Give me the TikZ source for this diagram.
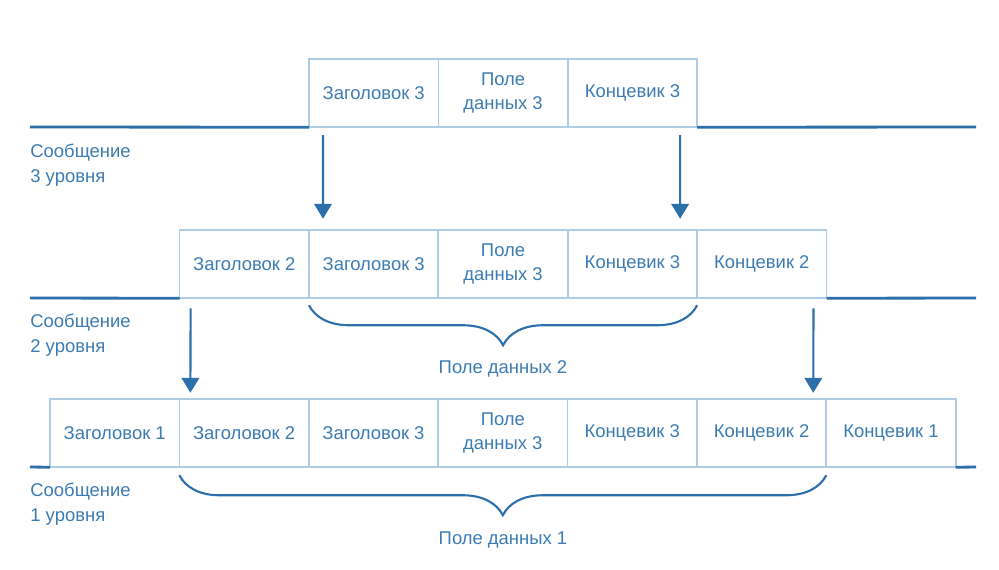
\documentclass[tikz,border=0pt]{standalone}
\usepackage{fontspec}
\setmainfont{Liberation Sans}
\usetikzlibrary{positioning,arrows.meta,decorations.pathreplacing}
\definecolor{lineblue}{HTML}{2C6FAA}
\definecolor{boxblue}{HTML}{AECDE4}
\definecolor{textblue}{HTML}{3C7CB3}
\tikzset{
  field/.style={draw=boxblue, line width=1pt, minimum width=2.588cm, minimum height=1.37cm,
    outer sep=0pt, inner sep=1pt, text=textblue, align=center,
    font=\fontsize{10.5}{14}\selectfont},
  wire/.style={draw=lineblue, line width=1.6pt},
  down/.style={draw=lineblue, line width=1.2pt, -{Triangle[width=10pt,length=8.5pt]}},
  fieldbrace/.style={draw=lineblue, line width=1.2pt, decorate,
    decoration={brace, mirror, amplitude=0.8cm}},
  lvl/.style={text=textblue, align=left, anchor=north west, inner sep=0pt,
    font=\fontsize{10.5}{14}\selectfont},
  bracelbl/.style={text=textblue, font=\fontsize{10.5}{13}\selectfont}
}
\begin{document}
\begin{tikzpicture}[x=0.02cm,y=-0.02cm]
  \useasboundingbox[fill=white] (0,0) rectangle (999,569);

  % level 3
  \node[field] (t1) at (373.7,93) {Заголовок 3};
  \node[field, right=0pt of t1] (t2) {Поле\\данных 3};
  \node[field, right=0pt of t2] (t3) {Концевик 3};

  % level 2
  \node[field] (m1) at (244.3,264) {Заголовок 2};
  \node[field, right=0pt of m1] (m2) {Заголовок 3};
  \node[field, right=0pt of m2] (m3) {Поле\\данных 3};
  \node[field, right=0pt of m3] (m4) {Концевик 3};
  \node[field, right=0pt of m4] (m5) {Концевик 2};

  % level 1
  \node[field] (b1) at (114.7,433) {Заголовок 1};
  \node[field, right=0pt of b1] (b2) {Заголовок 2};
  \node[field, right=0pt of b2] (b3) {Заголовок 3};
  \node[field, right=0pt of b3] (b4) {Поле\\данных 3};
  \node[field, right=0pt of b4] (b5) {Концевик 3};
  \node[field, right=0pt of b5] (b6) {Концевик 2};
  \node[field, right=0pt of b6] (b7) {Концевик 1};

  % line ends
  \coordinate (w3) at (30,127);
  \coordinate (e3) at (976,127);
  \coordinate (w2) at (30,298);
  \coordinate (e2) at (976,298);
  \coordinate (w1) at (30,467);
  \coordinate (e1) at (976,467);

  \draw[wire] (w3) -- (t1.south west);
  \draw[wire] (t3.south east) -- (e3);
  \draw[wire] (w2) -- (m1.south west);
  \draw[wire] (m5.south east) -- (e2);
  \draw[wire] (w1) -- (b1.south west);
  \draw[wire] (b7.south east) -- (e1);

  \node[lvl] (lv3) at (30,144) {Сообщение\\3 уровня};
  \node[lvl] (lv2) at (30,314) {Сообщение\\2 уровня};
  \node[lvl] (lv1) at (30,483) {Сообщение\\1 уровня};

  % arrows
  \draw[down] ([xshift=0.28cm,yshift=-0.16cm]t1.south west) -- ([xshift=0.28cm,yshift=0.22cm]m2.north west);
  \draw[down] ([xshift=-0.34cm,yshift=-0.16cm]t3.south east) -- ([xshift=-0.34cm,yshift=0.22cm]m4.north east);
  \draw[down] ([xshift=0.22cm,yshift=-0.2cm]m1.south west) -- ([xshift=0.22cm,yshift=0.12cm]b2.north west);
  \draw[down] ([xshift=-0.26cm,yshift=-0.2cm]m5.south east) -- ([xshift=-0.26cm,yshift=0.12cm]b6.north east);

  % braces
  \draw[fieldbrace] ([yshift=-0.14cm]m2.south west) -- ([yshift=-0.14cm]m4.south east);
  \node[bracelbl] (pd2) at (503,369) {Поле данных 2};
  \draw[fieldbrace] ([yshift=-0.16cm]b2.south west) -- ([yshift=-0.16cm]b6.south east);
  \node[bracelbl] (pd1) at (503,540) {Поле данных 1};
\end{tikzpicture}
\end{document}
